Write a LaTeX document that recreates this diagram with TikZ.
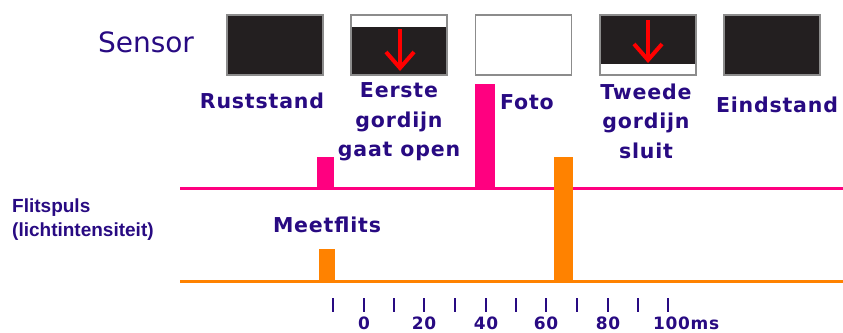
\documentclass[tikz,border=0pt]{standalone}
\usepackage{fontspec}
\setmainfont{DejaVu Sans}
\newfontfamily\arialfont{Liberation Sans}
\newfontfamily\lblfont[LetterSpace=4]{DejaVu Sans}
\definecolor{navy}{RGB}{40,10,130}
\definecolor{dark}{RGB}{35,31,32}
\definecolor{frame}{RGB}{140,140,140}
\definecolor{pinkc}{RGB}{255,0,128}
\definecolor{orangec}{RGB}{255,130,0}
\definecolor{redc}{RGB}{255,0,0}
\tikzset{
  sensorbox/.style={draw=frame, line width=1.2pt, fill=dark, minimum width=96pt, minimum height=60pt, inner sep=0pt},
  lbl/.style={text=navy, font=\lblfont\fontsize{20.5}{29.5}\selectfont\bfseries, align=center, inner sep=0pt},
  pinkline/.style={draw=pinkc, line width=3pt},
  orangeline/.style={draw=orangec, line width=3pt},
  pinkpulse/.style={fill=pinkc, draw=none},
  orangepulse/.style={fill=orangec, draw=none},
  redarrow/.style={draw=redc, line width=4pt, line join=miter},
  tick/.style={draw=navy, line width=2.2pt},
  num/.style={text=navy, font=\lblfont\fontsize{17}{20}\selectfont\bfseries, inner sep=0pt}
}
\begin{document}
\begin{tikzpicture}[x=1pt,y=-1pt]
\useasboundingbox (0,0) rectangle (843,332);
% Sensor label
\node[text=navy, font=\fontsize{28}{32}\selectfont, inner sep=0pt] (sensor) at (146,42) {Sensor};
% boxes
\node[sensorbox] (b1) at (275,45) {};
\node[sensorbox] (b2) at (399,45) {};
\fill[white] (352,16) rectangle (446,27);
\draw[frame, line width=1.2pt] (351,15) rectangle (447,75);
\draw[redarrow] (400,29) -- (400,68);
\draw[redarrow] (386,52) -- (400,68) -- (414,52);
\node[sensorbox, fill=white] (b3) at (523.5,45) {};
\node[sensorbox] (b4) at (648,45) {};
\fill[white] (601,64) rectangle (695,74);
\draw[frame, line width=1.2pt] (600,15) rectangle (696,75);
\draw[redarrow] (648,20) -- (648,60);
\draw[redarrow] (634,44) -- (648,60) -- (662,44);
\node[sensorbox] (b5) at (772,45) {};
% labels
\node[lbl] (l1) at (262,101) {Ruststand};
\node[lbl] (l2) at (399,122) {Eerste\\gordijn\\gaat open};
\node[lbl] (l3) at (527,102) {Foto};
\node[lbl] (l4) at (646,121) {Tweede\\gordijn\\sluit};
\node[lbl] (l5) at (777,105) {Eindstand};
% pink trace
\draw[pinkline] (180,188) -- (843,188);
\fill[pinkpulse] (317,157) rectangle (334,189);
\fill[pinkpulse] (475,84) rectangle (495,189);
% orange trace
\draw[orangeline] (180,281) -- (843,281);
\fill[orangepulse] (319,249) rectangle (335,282);
\fill[orangepulse] (554,157) rectangle (573,282);
% left labels
\node[text=navy, font=\arialfont\fontsize{19}{24}\selectfont\bfseries, align=left, anchor=west, inner sep=0pt] (flits) at (12,220) {Flitspuls\\(lichtintensiteit)};
\node[lbl] (meet) at (327,225) {Meetflits};
% ticks
\foreach \x in {333,364,394,424,455,486,516,546,577,608,638,668}
  \draw[tick] (\x,298) -- (\x,312);
\foreach \x/\t in {364/0,424/20,486/40,546/60,608/80}
  \node[num] at (\x,323) {\t};
\node[num, anchor=west] (ms) at (653,323) {100ms};
\end{tikzpicture}
\end{document}
